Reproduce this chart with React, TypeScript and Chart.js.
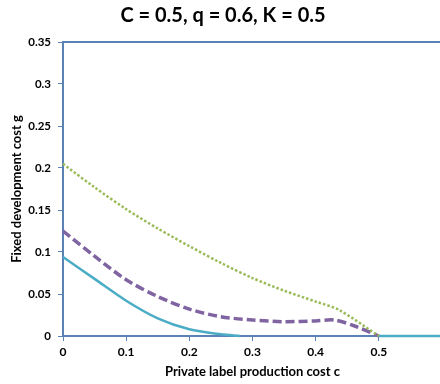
import React, { useEffect, useRef } from "react";
import { Chart, registerables } from "chart.js";

Chart.register(...registerables);

const titleText = "C = 0.5, q = 0.6, K = 0.5";
const xAxisTitle = "Private label production cost c";
const yAxisTitle = "Fixed development cost g";

const xTicks = [0, 0.1, 0.2, 0.3, 0.4, 0.5, 0.6];
const yTicks = [0, 0.05, 0.1, 0.15, 0.2, 0.25, 0.3, 0.35];

const greenX = [0, 0.05, 0.1, 0.15, 0.2, 0.25, 0.3, 0.35, 0.4, 0.437, 0.5];
const greenY = [0.205, 0.177, 0.151, 0.128, 0.107, 0.087, 0.069, 0.054, 0.041, 0.031, 0];

const purpleX = [0, 0.05, 0.1, 0.15, 0.2, 0.25, 0.3, 0.35, 0.4, 0.43, 0.465, 0.5];
const purpleY = [0.125, 0.095, 0.067, 0.047, 0.032, 0.023, 0.019, 0.017, 0.018, 0.019, 0.011, 0];

const tealX = [0, 0.05, 0.1, 0.15, 0.2, 0.25, 0.28, 0.39, 0.5, 0.6];
const tealY: (number | null)[] = [0.094, 0.068, 0.042, 0.021, 0.008, 0.002, 0, null, 0, 0];

const AXIS = "#5b82b4";
const FONT = "Lato";

function pts(xs: number[], ys: (number | null)[]) {
  return xs.map((x, i) => ({ x, y: ys[i] }));
}

export default function App() {
  const ref = useRef<HTMLCanvasElement>(null);
  useEffect(() => {
    if (!ref.current) return;
    const chart = new Chart(ref.current, {
      type: "line",
      data: {
        datasets: [
          {
            data: pts(greenX, greenY),
            borderColor: "#9bbb59",
            borderWidth: 2.5,
            borderDash: [2.5, 2],
            pointRadius: 0,
            tension: 0.3,
            clip: false,
          },
          {
            data: pts(purpleX, purpleY),
            borderColor: "#8064a2",
            borderWidth: 3.5,
            borderDash: [9, 4],
            pointRadius: 0,
            tension: 0.3,
            clip: false,
          },
          {
            data: pts(tealX, tealY),
            borderColor: "#4bacc6",
            borderWidth: 2.5,
            pointRadius: 0,
            tension: 0.3,
            spanGaps: false,
            clip: false,
          },
        ],
      },
      options: {
        animation: false,
        responsive: false,
        layout: { padding: { left: 0, right: 0, top: 0, bottom: 0 } },
        plugins: {
          legend: { display: false },
          tooltip: { enabled: false },
          title: {
            display: true,
            text: titleText,
            color: "#000",
            font: { family: FONT, size: 20, weight: "bold" },
            padding: { top: 4, bottom: 14 },
          },
        },
        scales: {
          x: {
            type: "linear",
            min: 0,
            max: 0.6,
            afterBuildTicks: (s: any) => {
              s.ticks = xTicks.map((v) => ({ value: v }));
            },
            afterFit: (s: any) => {
              s.height = 48;
            },
            ticks: {
              color: "#000",
              font: { family: FONT, size: 12, weight: "bold" },
              padding: 4,
              maxRotation: 0,
              callback: (v: any) => (v >= 0.6 ? "" : String(Number(v))),
            },
            grid: {
              display: true,
              drawOnChartArea: false,
              drawTicks: true,
              tickLength: 5,
              color: AXIS,
            },
            border: { display: true, color: AXIS, width: 2 },
            title: {
              display: true,
              text: xAxisTitle,
              color: "#000",
              font: { family: FONT, size: 13, weight: "bold" },
              padding: { top: 2, bottom: 4 },
            },
          },
          xTop: {
            type: "linear",
            position: "top",
            min: 0,
            max: 0.6,
            ticks: { display: false },
            grid: { display: false, drawTicks: false },
            border: { display: true, color: AXIS, width: 2 },
          },
          y: {
            type: "linear",
            min: 0,
            max: 0.35,
            afterBuildTicks: (s: any) => {
              s.ticks = yTicks.map((v) => ({ value: v }));
            },
            afterFit: (s: any) => {
              s.width = 63;
            },
            ticks: {
              color: "#000",
              font: { family: FONT, size: 11.5, weight: "bold" },
              padding: 7,
              callback: (v: any) => String(Number(v)),
            },
            grid: {
              display: true,
              drawOnChartArea: false,
              drawTicks: true,
              tickLength: 5,
              color: AXIS,
            },
            border: { display: true, color: AXIS, width: 2 },
            title: {
              display: true,
              text: yAxisTitle,
              color: "#000",
              font: { family: FONT, size: 13, weight: "bold" },
              padding: { top: 9, bottom: 2 },
            },
          },
        },
      },
    });
    return () => chart.destroy();
  }, []);
  return (
    <div style={{ position: "absolute", left: 0, top: 0, width: 440, height: 384, overflow: "hidden", background: "#fff" }}>
      <canvas ref={ref} width={446} height={384} style={{ width: 446, height: 384, display: "block" }} />
    </div>
  );
}
